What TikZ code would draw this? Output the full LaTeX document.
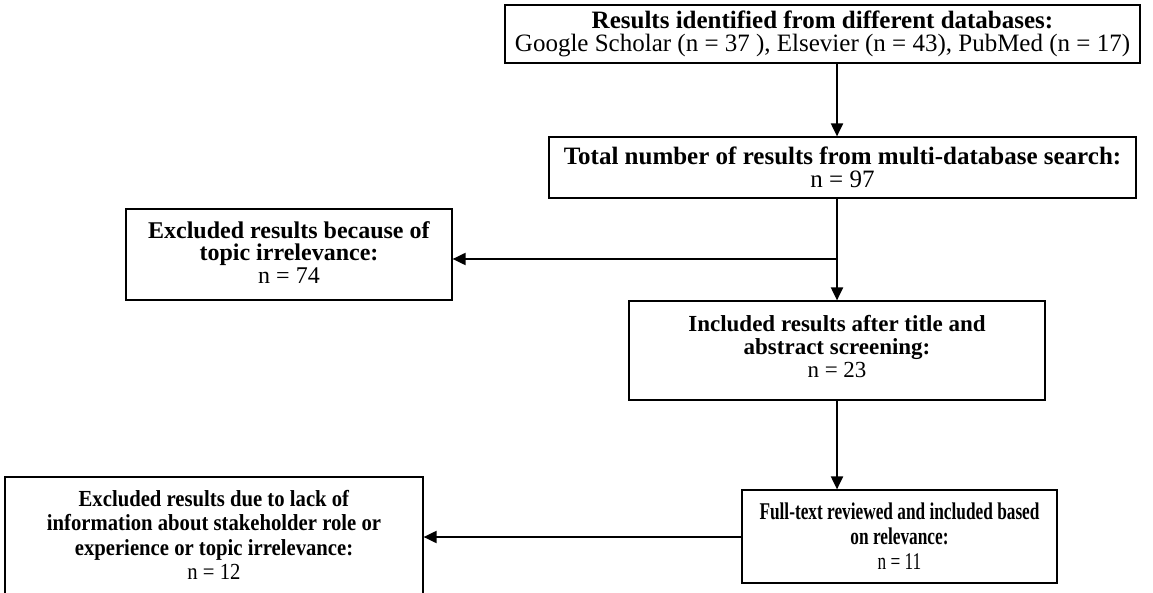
\documentclass[tikz,border=0pt]{standalone}
\usepackage{fontspec}
\setmainfont{Liberation Serif}
\newfontfamily\narrowserif[FakeStretch=0.72]{Liberation Serif}
\newfontfamily\slimserif[FakeStretch=0.9]{Liberation Serif}
\usetikzlibrary{arrows.meta}

\begin{document}
\begin{tikzpicture}[x=1pt,y=-1pt]
        \tikzstyle{every node}=[font=\fontsize{25}{23}\selectfont, align=center, inner sep=0pt]
        \tikzstyle{box}=[draw, line width=1.2pt]
        \tikzstyle{flow}=[line width=2pt, -{Triangle[length=13pt,width=12pt]}]

        \useasboundingbox (0,0) rectangle (1153,593);

        % main column
        \node   (db)     [box, minimum width=635pt, minimum height=58pt] at (822.5,34)
                {\textbf{Results identified from different databases:}\\Google Scholar (n = 37 ), Elsevier (n = 43), PubMed (n = 17)};
        \node   (total)  [box, minimum width=587pt, minimum height=61pt] at (842.5,167.5)
                {\textbf{Total number of results from multi-database search:}\\n = 97};
        \node   (screen) [box, minimum width=416pt, minimum height=99pt, text depth=8pt, font=\fontsize{23}{23}\selectfont] at (837,350.5)
                {\textbf{Included results after title and}\\\textbf{abstract screening:}\\n = 23};
        \node   (full)   [box, minimum width=315pt, minimum height=93pt, font=\narrowserif\fontsize{24}{25}\selectfont] at (899.5,536.5)
                {\textbf{Full-text reviewed and included based}\\\textbf{on relevance:}\\n = 11};

        % excluded side
        \node   (out1)   [box, minimum width=326pt, minimum height=91pt, text depth=4pt, font=\fontsize{24}{22.5}\selectfont] at (289,254.5)
                {\textbf{Excluded results because of}\\\textbf{topic irrelevance:}\\n = 74};
        \node   (out2)   [box, minimum width=418pt, minimum height=126pt, text depth=10pt, font=\slimserif\fontsize{23}{24.5}\selectfont] at (214,540)
                {\textbf{Excluded results due to lack of}\\\textbf{information about stakeholder role or}\\\textbf{experience or topic irrelevance:}\\n = 12};

        \coordinate (spine) at (837,259);
        \coordinate (lower) at (837,537);

        \draw[flow] (db.south -| spine) -- (total.north -| spine);
        \draw[flow] (total.south -| spine) -- (screen.north -| spine);
        \draw[flow] (spine) -- (out1.east |- spine);
        \draw[flow] (screen.south -| spine) -- (full.north -| spine);
        \draw[flow] (full.west |- lower) -- (out2.east |- lower);
\end{tikzpicture}
\end{document}
